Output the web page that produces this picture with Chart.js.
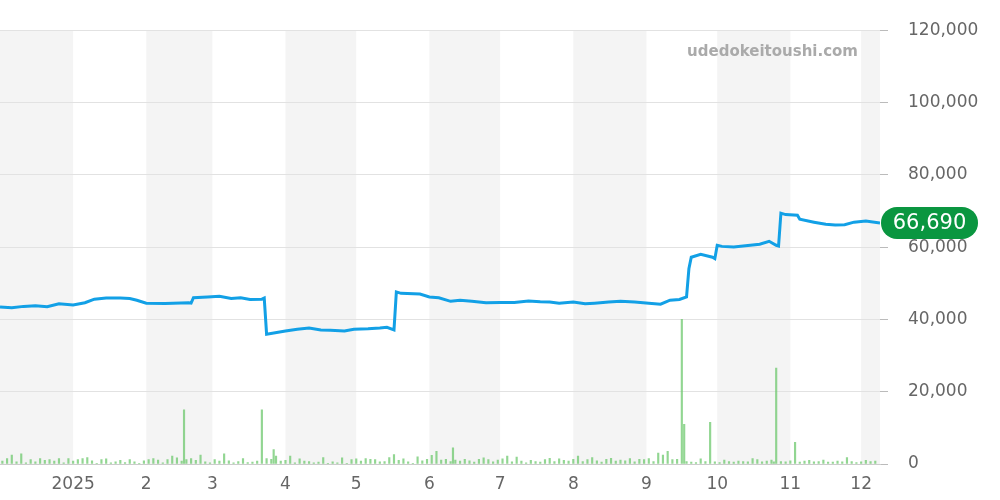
<!DOCTYPE html>
<html><head><meta charset="utf-8">
<script src="https://cdn.jsdelivr.net/npm/chart.js@4"></script>
<style>html,body{margin:0;padding:0;background:#fff}#w{width:1000px;height:500px}</style>
</head><body><div id="w"><canvas id="c"></canvas></div>
<script>
// days since 2024-12-01
const priceDays = [0,5,10,15,20,25,31,36,40,45,51,55,58,62,70,80,81,82,88,93,98,102,106,111,112,113,121,126,131,136,140,146,150,156,161,164,167,168,170,178,182,186,191,195,200,206,212,218,224,229,233,237,243,248,252,258,263,269,275,280,284,288,291,292,293,297,302,303,304,306,311,316,322,326,329,330,331,333,338,339,345,350,354,358,362,367,373];
const priceVals = [43400,43200,43600,43800,43500,44300,44000,44600,45600,45900,45900,45800,45300,44500,44400,44600,44500,46000,46200,46400,45800,46000,45500,45600,45900,35900,36800,37300,37600,37100,37000,36800,37300,37400,37600,37800,37100,47600,47200,47000,46200,46000,45000,45300,45000,44600,44700,44700,45100,44900,44800,44500,44800,44300,44500,44800,45000,44800,44500,44200,45300,45500,46200,54000,57200,58000,57200,56800,60500,60200,60000,60400,60800,61600,60500,60300,69400,69000,68800,67700,66900,66300,66100,66200,66900,67200,66690];
const volDays = [1,3,5,7,9,11,13,15,17,19,21,23,25,27,29,31,33,35,37,39,41,43,45,47,49,51,53,55,57,59,61,63,65,67,69,71,73,75,77,78,79,81,83,85,87,89,91,93,95,97,99,101,103,105,107,109,111,113,115,116,117,119,121,123,125,127,129,131,133,135,137,139,141,143,145,147,149,151,153,155,157,159,161,163,165,167,169,171,173,175,177,179,181,183,185,187,189,191,192,193,195,197,199,201,203,205,207,209,211,213,215,217,219,221,223,225,227,229,231,233,235,237,239,241,243,245,247,249,251,253,255,257,259,261,263,265,267,269,271,273,275,277,279,281,283,285,287,289,290,291,293,295,297,299,301,303,305,307,309,311,313,315,317,319,321,323,325,327,328,329,331,333,335,337,339,341,343,345,347,349,351,353,355,357,359,361,363,365,367,369,371];
const volVals = [800,1500,2500,600,2800,300,1200,600,1500,1000,1200,800,1500,300,1500,800,1200,1500,1800,900,200,1200,1400,300,600,1000,400,1200,600,200,900,1200,1500,1100,300,1200,2200,1700,800,15000,1200,1500,1000,2500,600,300,1200,800,2800,900,300,700,1500,400,500,800,15000,1500,1300,4000,2200,800,1000,2200,300,1400,800,700,300,500,1800,200,600,300,1700,200,1200,1400,800,1500,1300,1200,600,700,1800,2600,1000,1400,600,200,2000,900,1300,2400,3500,1100,1300,700,4500,1100,800,1300,900,500,1300,1700,1200,600,1100,1400,2200,600,1900,800,300,1000,700,500,1200,1600,700,1400,1000,800,1300,2200,700,1200,1800,900,500,1300,1600,800,1100,900,1500,600,1300,1200,1500,700,3000,2500,3500,1200,1300,40000,11000,700,500,400,1400,700,11500,600,400,1100,700,500,800,700,600,1500,1200,600,800,1100,600,26500,700,600,900,6000,500,800,1000,600,700,1100,500,500,800,600,1800,700,400,600,1000,700,800];
const monthDays = [31,62,90,121,151,182,212,243,274,304,335,365];
const monthLabels = ['2025','2','3','4','5','6','7','8','9','10','11','12'];
const bandStarts = [0,62,121,182,243,304,365];
const bandEnds = [31,90,151,212,274,335,396];
const lastLabel = '66,690';
const lastValue = 66690;

const bands = {id:'bands', beforeDraw(ch){const {ctx,chartArea:a,scales:{x}}=ch;ctx.save();ctx.fillStyle='#f4f4f4';
 for(let i=0;i<bandStarts.length;i++){const x0=Math.max(a.left,x.getPixelForValue(bandStarts[i]));const x1=Math.min(a.right,x.getPixelForValue(bandEnds[i]));if(x1>x0)ctx.fillRect(x0,a.top,x1-x0,a.bottom-a.top);}ctx.restore();}};
const extras = {id:'extras', afterDraw(ch){const {ctx,chartArea:a,scales:{y}}=ch;ctx.save();
 ctx.font='bold 15px "DejaVu Sans"';ctx.fillStyle='#aaa';ctx.textAlign='right';ctx.textBaseline='middle';ctx.fillText('udedokeitoushi.com',a.right-22,52);
 const yy=y.getPixelForValue(lastValue);const x0=a.right+1,w=97,h=32,r=16;ctx.fillStyle='#0a9640';ctx.beginPath();ctx.roundRect(x0,yy-h/2,w,h,r);ctx.fill();
 ctx.fillStyle='#fff';ctx.font='21px "DejaVu Sans"';ctx.textAlign='center';ctx.fillText(lastLabel,x0+w/2,yy+1);ctx.restore();}};

new Chart(document.getElementById('c'),{
 data:{datasets:[
  {type:'line',data:priceDays.map((d,i)=>({x:d,y:priceVals[i]})),borderColor:'#12a0e6',borderWidth:3,pointRadius:0,tension:0,order:1},
  {type:'bar',data:volDays.map((d,i)=>({x:d,y:volVals[i]})),backgroundColor:'rgba(110,200,110,0.75)',barThickness:1.5,order:2}
 ]},
 plugins:[bands,extras],
 options:{responsive:true,maintainAspectRatio:false,animation:false,
  layout:{padding:{top:30,left:0,right:0,bottom:0}},
  plugins:{legend:{display:false},tooltip:{enabled:false}},
  scales:{
   x:{type:'linear',min:0,max:373,offset:false,bounds:'data',grid:{display:false,offset:false},border:{color:'#ccc'},
     afterBuildTicks(s){s.ticks=monthDays.map(v=>({value:v}));},
     afterFit(s){s.height=36;},
     ticks:{autoSkip:false,maxRotation:0,color:'#666',font:{size:17,family:'DejaVu Sans'},padding:2,callback(v){const i=monthDays.indexOf(v);return i>=0?monthLabels[i]:'';}},
   },
   y:{position:'right',min:0,max:120000,border:{display:false},
     afterFit(s){s.width=120;},
     grid:{color:'#e2e2e2',tickLength:8,tickColor:'#bbb'},
     ticks:{stepSize:20000,color:'#666',font:{size:17,family:'DejaVu Sans'},padding:20,callback:v=>v.toLocaleString('en-US')}}
  }}
});
</script></body></html>
